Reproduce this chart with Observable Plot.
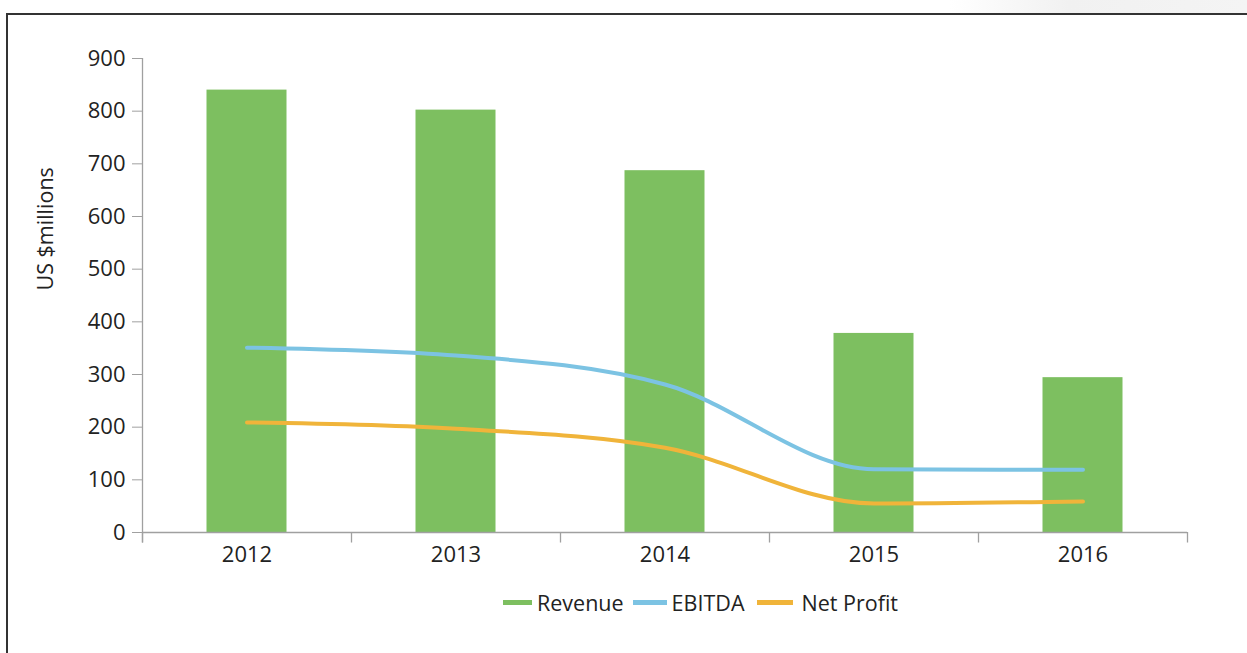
<!DOCTYPE html>
<html>
<head>
<meta charset="utf-8">
<script src="https://cdn.jsdelivr.net/npm/d3@7"></script>
<script src="https://cdn.jsdelivr.net/npm/@observablehq/plot@0.6"></script>
<style>
  body { margin: 0; background: #fff; font-family: "Open Sans", sans-serif; }
  #wrap { position: relative; width: 1247px; height: 653px; overflow: hidden; background: #fff; }
  #shade { position: absolute; left: 950px; top: 0; width: 297px; height: 14px;
           background: linear-gradient(to right, rgba(240,240,240,0), #f1f1f1 40%, #f4f4f4); }
  #frame { position: absolute; left: 6px; top: 13px; width: 1300px; height: 700px;
           border: 2px solid #333; box-sizing: border-box; pointer-events: none; }
  #chart { position: absolute; left: 0; top: 0; }
  #legend { position: absolute; top: 588px; left: 503px; height: 28px; display: flex; align-items: center;
            font-size: 21.5px; color: #222; white-space: nowrap; }
  .item { display: flex; align-items: center; }
  .sw { display: inline-block; height: 5px; }
</style>
</head>
<body>
<div id="wrap">
  <div id="shade"></div>
  <div id="chart"></div>
  <div id="frame"></div>
  <div id="legend"></div>
</div>
<script>
const years = ["2012", "2013", "2014", "2015", "2016"];
const revenue = [840, 802, 687, 378, 294];
const ebitda = [351, 336, 281, 120, 119];
const netProfit = [209, 197, 161, 55, 59];
const yTicks = [0, 100, 200, 300, 400, 500, 600, 700, 800, 900];
const seriesNames = ["Revenue", "EBITDA", "Net Profit"];
const seriesColors = ["#7dbf60", "#7cc3e3", "#f0b43a"];

const rows = years.map((y, i) => ({year: y, revenue: revenue[i], ebitda: ebitda[i], net: netProfit[i]}));

const W = 1247, H = 580, ML = 142, MR = 60, MT = 58, MB = 48;
const bw = (W - ML - MR) / years.length;
const axisColor = "#a0a0a0";
const FS = 22;

const chart = Plot.plot({
  width: W,
  height: H,
  marginLeft: ML,
  marginRight: MR,
  marginTop: MT,
  marginBottom: MB,
  style: {fontFamily: "Open Sans", fontSize: FS + "px", background: "transparent", overflow: "visible"},
  x: {domain: years, padding: 0},
  y: {domain: [0, 900]},
  marks: [
    Plot.barY(rows, {x: "year", y: "revenue", fill: seriesColors[0], insetLeft: (bw - 80) / 2, insetRight: (bw - 80) / 2}),
    Plot.ruleY([0], {stroke: axisColor, strokeWidth: 1.3}),
    Plot.ruleX([years[0]], {x: d => d, y1: -20, y2: 900, dx: -bw / 2, stroke: axisColor, strokeWidth: 1.3}),
    Plot.ruleX(years, {x: d => d, y1: 0, y2: -20, dx: -bw / 2, stroke: axisColor, strokeWidth: 1.3}),
    Plot.ruleX([years[years.length - 1]], {x: d => d, y1: 0, y2: -20, dx: bw / 2, stroke: axisColor, strokeWidth: 1.3}),
    Plot.line(rows, {x: "year", y: "ebitda", stroke: seriesColors[1], strokeWidth: 4, curve: "monotone-x"}),
    Plot.line(rows, {x: "year", y: "net", stroke: seriesColors[2], strokeWidth: 4, curve: "monotone-x"}),
    Plot.axisY(yTicks, {tickSize: 10, tickPadding: 7, fontSize: FS, stroke: axisColor, fill: "#222", label: null}),
    Plot.axisX({tickSize: 0, tickPadding: 14, fontSize: FS, fill: "#222", label: null}),
    Plot.text(["US $millions"], {frameAnchor: "left", text: d => d, rotate: -90, dx: -96, dy: -5, fontSize: FS - 0.5, fill: "#222"})
  ]
});
document.getElementById("chart").appendChild(chart);

const legend = document.getElementById("legend");
const swW = [29, 34, 36];
const gapAfterSw = [5, 5, 9];
const gapAfterText = [9, 12, 0];
seriesNames.forEach((name, i) => {
  const item = document.createElement("div");
  item.className = "item";
  item.style.marginRight = gapAfterText[i] + "px";
  const sw = document.createElement("span");
  sw.className = "sw";
  sw.style.width = swW[i] + "px";
  sw.style.background = seriesColors[i];
  sw.style.marginRight = gapAfterSw[i] + "px";
  const t = document.createElement("span");
  t.textContent = name;
  item.appendChild(sw);
  item.appendChild(t);
  legend.appendChild(item);
});
</script>
</body>
</html>
